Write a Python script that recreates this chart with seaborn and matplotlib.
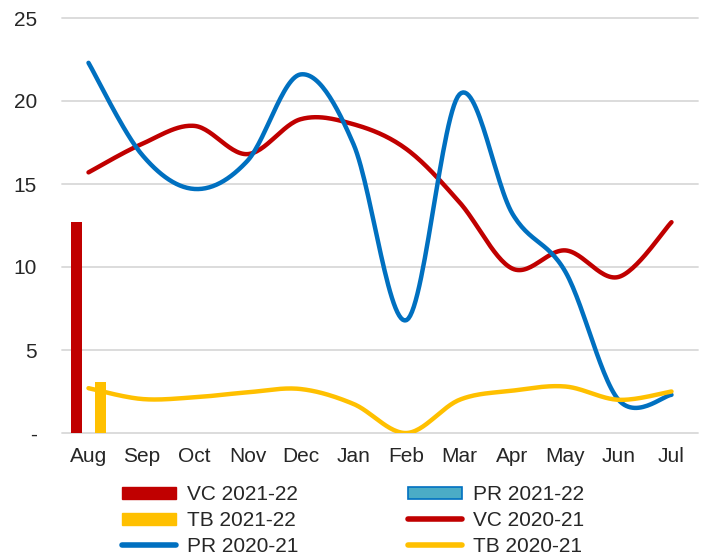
import numpy as np
import pandas as pd
import matplotlib
matplotlib.use("Agg")
import matplotlib.pyplot as plt
from matplotlib.patches import Patch
from matplotlib.lines import Line2D
import seaborn as sns

months = ["Aug", "Sep", "Oct", "Nov", "Dec", "Jan", "Feb", "Mar", "Apr", "May", "Jun", "Jul"]

# 2021-22 season: only August reported so far
vc_2122 = [12.7]
pr_2122 = [0.0]
tb_2122 = [3.1]

# 2020-21 season, full year
vc_2021 = [15.7, 17.4, 18.5, 16.8, 18.9, 18.6, 17.1, 13.9, 9.9, 11.0, 9.4, 12.7]
pr_2021 = [22.3, 16.8, 14.7, 16.4, 21.6, 17.4, 6.8, 20.4, 13.2, 9.7, 2.0, 2.3]
tb_2021 = [2.7, 2.05, 2.15, 2.45, 2.65, 1.75, 0.0, 2.0, 2.55, 2.8, 2.0, 2.5]

RED = "#c00000"
BLUE = "#0070c0"
LIGHT_BLUE = "#4bacc6"
YELLOW = "#ffc000"


def smooth(values, n=30):
    """Catmull-Rom style curve through the points (like Excel's smoothed line)."""
    x = np.arange(len(values), dtype=float)
    y = np.asarray(values, dtype=float)
    pts = np.column_stack([x, y])
    out = []
    t = np.linspace(0, 1, n)[:, None]
    for i in range(len(pts) - 1):
        p0 = pts[i - 1] if i > 0 else pts[i]
        p1, p2 = pts[i], pts[i + 1]
        p3 = pts[i + 2] if i + 2 < len(pts) else pts[i + 1]
        c1 = p1 + (p2 - p0) / 6
        c2 = p2 - (p3 - p1) / 6
        seg = ((1 - t) ** 3) * p1 + 3 * ((1 - t) ** 2) * t * c1 + 3 * (1 - t) * t ** 2 * c2 + t ** 3 * p2
        out.append(seg if i == 0 else seg[1:])
    seg = np.vstack(out)
    return seg[:, 0], seg[:, 1]


sns.set_style("white")
plt.rcParams["font.family"] = ["Liberation Sans", "DejaVu Sans"]

fig = plt.figure(figsize=(7.07, 5.57), dpi=100)
ax = fig.add_axes([62 / 707, 1 - 433 / 557, 636 / 707, 415 / 557])

bar_series = ["VC 2021-22", "PR 2021-22", "TB 2021-22"]
bars_df = pd.DataFrame({
    "month": ["Aug"] * 3,
    "series": bar_series,
    "value": [vc_2122[0], pr_2122[0], tb_2122[0]],
})
sns.barplot(data=bars_df, x="month", y="value", hue="series", order=months,
            hue_order=bar_series, palette=[RED, LIGHT_BLUE, YELLOW],
            width=0.68, gap=0.16, errorbar=None, legend=False, linewidth=0,
            saturation=1, ax=ax)

for vals, col in [(vc_2021, RED), (pr_2021, BLUE), (tb_2021, YELLOW)]:
    xs, ys = smooth(vals)
    ax.plot(xs, ys, color=col, lw=3.2, solid_capstyle="round", zorder=3)

ax.set_xlim(-0.5, 11.5)
ax.set_ylim(0, 25)
ax.set_yticks([0, 5, 10, 15, 20, 25])
ax.set_yticklabels(["-", "5", "10", "15", "20", "25"])
ax.set_xticks(range(len(months)))
ax.set_xticklabels(months)
ax.tick_params(axis="y", length=0, pad=18, labelsize=15)
ax.tick_params(axis="x", length=0, pad=10, labelsize=15)
ax.set_xlabel("")
ax.set_ylabel("")
ax.yaxis.grid(True, color="#d9d9d9", lw=1.3)
ax.set_axisbelow(True)
for s in ax.spines.values():
    s.set_visible(False)
for gl in ax.get_ygridlines():
    gl.set_clip_on(False)

handles = [
    Patch(facecolor=RED, edgecolor=RED),
    Patch(facecolor=YELLOW, edgecolor=YELLOW),
    Line2D([], [], color=BLUE, lw=4, solid_capstyle="round"),
    Patch(facecolor=LIGHT_BLUE, edgecolor=BLUE, lw=1.2),
    Line2D([], [], color=RED, lw=4, solid_capstyle="round"),
    Line2D([], [], color=YELLOW, lw=4, solid_capstyle="round"),
]
labels = ["VC 2021-22", "TB 2021-22", "PR 2020-21", "PR 2021-22", "VC 2020-21", "TB 2020-21"]
fig.legend(handles, labels, ncol=2, frameon=False, fontsize=15,
           loc="upper left", bbox_to_anchor=(112 / 707, 1 - 475 / 557),
           borderpad=0, handlelength=2.55, handleheight=0.5, handletextpad=0.53,
           columnspacing=5.3, labelspacing=0.32)

fig.savefig("out.png", dpi=100)
